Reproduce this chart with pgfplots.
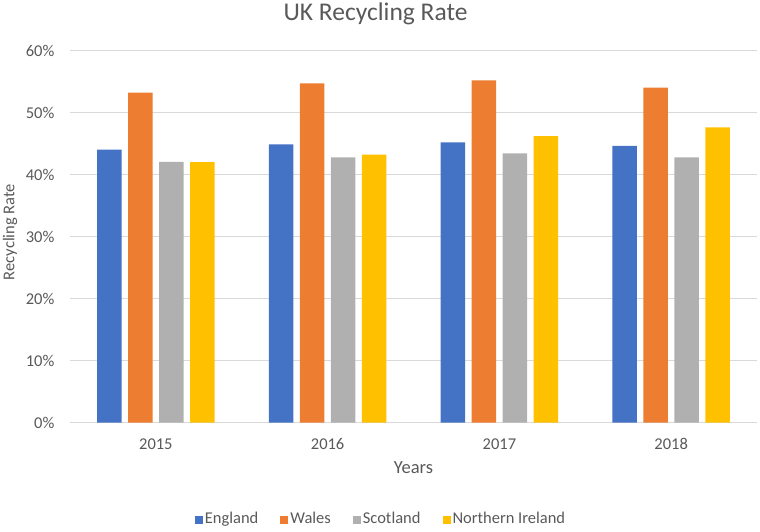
\documentclass[border=0pt]{standalone}
\usepackage{fontspec}
\setmainfont{Carlito}
\usepackage{pgfplots}
\pgfplotsset{compat=1.18}
\definecolor{eng}{HTML}{4472C4}
\definecolor{wal}{HTML}{ED7D31}
\definecolor{sco}{HTML}{B0B0B0}
\definecolor{nir}{HTML}{FFC000}
\definecolor{txt}{HTML}{595959}
\definecolor{gridc}{HTML}{D9D9D9}
\begin{document}
\begin{tikzpicture}[x=1pt,y=1pt]
\path[use as bounding box] (0,0) rectangle (760,531);
\begin{axis}[
  at={(70pt,108.5pt)}, anchor=south west,
  scale only axis, width=687pt, height=372pt,
  xmin=-0.5, xmax=3.5, ymin=0, ymax=60,
  enlargelimits=false,
  ybar=6.3pt, bar width=24.7pt,
  xtick={0,1,2,3}, xticklabels={2015,2016,2017,2018},
  ytick={0,10,20,30,40,50,60},
  yticklabel={\pgfmathparse{int(\tick)}\pgfmathresult\%},
  ymajorgrids, grid style={gridc, line width=0.8pt},
  axis lines*=left,
  x axis line style={gridc, line width=0.9pt, -},
  y axis line style={draw=none},
  major tick length=0pt,
  tick label style={font=\fontsize{16.5}{19}\selectfont, text=txt, inner sep=0pt},
  yticklabel style={anchor=east, xshift=-15.5pt},
  xticklabel style={anchor=base, yshift=-26.5pt},
  legend columns=4,
  legend image code/.code={\fill[#1] (0pt,0pt) rectangle (8pt,8pt);},
  legend style={at={(0.4527,-0.2594)}, anchor=center, draw=none, fill=none,
    font=\fontsize{16.5}{19}\selectfont, text=txt, inner sep=0pt,
    /tikz/every even column/.append style={column sep=20pt},
    nodes={inner sep=2pt, anchor=base west}},
  legend cell align=left,
]
\addplot[fill=eng, draw=none] coordinates {(0,44.0) (1,44.85) (2,45.2) (3,44.6)};
\addplot[fill=wal, draw=none] coordinates {(0,53.2) (1,54.7) (2,55.2) (3,54.0)};
\addplot[fill=sco, draw=none] coordinates {(0,42.05) (1,42.75) (2,43.4) (3,42.75)};
\addplot[fill=nir, draw=none] coordinates {(0,42.0) (1,43.2) (2,46.2) (3,47.6)};
\legend{England, Wales, Scotland, Northern Ireland}
\end{axis}
\node[anchor=base, text=txt, font=\fontsize{25.5}{30}\selectfont] at (375.5,510) {UK Recycling Rate};
\node[rotate=90, text=txt, font=\fontsize{16.5}{20}\selectfont] at (10,299) {Recycling Rate};
\node[text=txt, font=\fontsize{18.5}{22}\selectfont] at (413.5,63) {Years};
\end{tikzpicture}
\end{document}
